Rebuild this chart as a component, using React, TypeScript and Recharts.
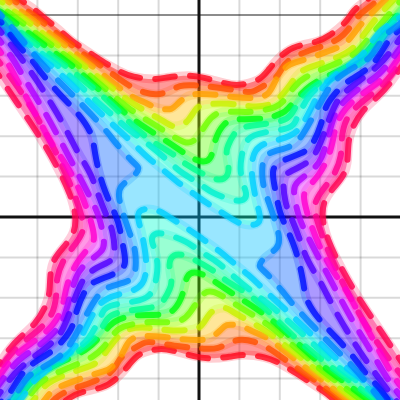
import React from "react";
import { ScatterChart, Scatter, XAxis, YAxis, ReferenceLine } from "recharts";

type P = number[];

const gridTicks = [-161.6, -121.2, -80.8, -40.4, 40.4, 80.8, 121.2, 161.6];
const yGridTicks = [-161.6, -121.2, -80.8, -40.4, 40.4, 80.8, 121.2, 161.6];
const heavyTick = 202;

const redTop: P[] = [[-191,227],[-179,217],[-166,209],[-156,200],[-137,185],[-129,177],[-109,164],[-99,157],[-79,145],[-67,140],[-44,137],[-32,140],[-9,142],[3,140],[28,133],[38,131],[61,136],[69,147],[84,164],[96,171],[119,175],[129,180],[148,195],[154,207],[168,217],[179,227]];
const orangeTop: P[] = [[-198,227],[-186,217],[-163,200],[-144,185],[-117,164],[-107,157],[-89,145],[-69,130],[-54,124],[-42,122],[-31,125],[-19,132],[-7,132],[18,130],[51,124],[56,126],[78,139],[82,147],[88,157],[108,166],[128,172],[141,179],[148,185],[159,202],[171,210],[179,217],[191,227]];
const amberTop: P[] = [[-205,227],[-193,217],[-170,200],[-151,185],[-124,164],[-115,157],[-99,145],[-69,120],[-54,115],[-46,110],[-37,108],[-27,107],[-22,113],[-14,120],[-4,124],[23,122],[31,120],[59,118],[71,123],[76,137],[88,152],[94,154],[114,160],[141,170],[148,174],[161,192],[169,200],[186,217],[198,227]];
const yellowTop: P[] = [[-212,227],[-200,217],[-177,200],[-158,185],[-131,164],[-122,157],[-107,145],[-87,129],[-69,115],[-59,109],[-32,94],[-27,90],[-16,92],[-10,97],[-4,107],[1,113],[31,114],[51,110],[71,111],[81,119],[91,132],[98,142],[106,149],[128,155],[148,164],[157,171],[168,187],[174,195],[191,214],[203,225]];
const limeTop: P[] = [[-219,227],[-207,217],[-184,200],[-165,185],[-137,164],[-127,157],[-113,145],[-89,124],[-69,107],[-47,94],[-36,87],[-13,72],[-3,76],[9,97],[19,106],[43,105],[54,105],[78,109],[86,117],[96,132],[106,140],[121,147],[146,157],[159,165],[173,183],[181,192],[198,212],[210,226]];
const greenTop: P[] = [[-226,227],[-214,217],[-191,200],[-172,185],[-144,164],[-134,157],[-119,145],[-94,122],[-69,99],[-42,82],[-19,67],[-11,61],[3,54],[13,57],[15,77],[25,95],[36,98],[61,98],[71,99],[84,104],[88,107],[101,122],[111,132],[126,140],[151,151],[166,162],[179,179],[188,190],[204,209],[216,223]];
const springTop: P[] = [[-233,227],[-221,217],[-198,200],[-179,185],[-151,164],[-141,157],[-126,145],[-99,124],[-77,102],[-69,94],[-52,79],[-46,75],[-24,62],[-16,54],[14,37],[26,37],[31,46],[27,64],[28,70],[37,88],[48,91],[84,95],[92,101],[98,113],[104,122],[117,132],[133,142],[156,154],[171,167],[183,182],[193,195],[209,213],[221,225]];
const aquaTop: P[] = [[-240,227],[-228,217],[-205,200],[-186,185],[-158,164],[-148,157],[-133,145],[-102,115],[-84,100],[-74,90],[-49,72],[-26,52],[-19,45],[3,32],[11,25],[34,16],[46,16],[48,24],[44,32],[41,47],[42,59],[47,80],[64,85],[93,88],[97,97],[103,109],[110,122],[121,132],[141,143],[163,153],[176,167],[189,187],[201,202],[213,214]];
const cyanTop: P[] = [[-247,227],[-235,217],[-212,200],[-193,185],[-165,164],[-155,157],[-140,145],[-104,109],[-86,92],[-77,84],[-59,67],[-51,59],[-32,44],[-22,35],[-2,21],[6,15],[33,-2],[41,-7],[55,-9],[63,-4],[58,12],[54,32],[52,50],[55,68],[68,75],[93,80],[104,92],[116,117],[123,129],[136,143],[156,155],[168,167],[179,185],[191,193],[203,200],[215,212]];

const redBottom: P[] = [[191,-227],[179,-217],[166,-209],[156,-200],[137,-185],[129,-177],[109,-164],[99,-157],[79,-145],[67,-140],[44,-137],[32,-140],[9,-142],[-3,-140],[-28,-133],[-38,-131],[-61,-136],[-69,-147],[-84,-164],[-96,-171],[-119,-175],[-129,-180],[-148,-195],[-154,-207],[-168,-217],[-179,-227]];
const orangeBottom: P[] = [[198,-227],[186,-217],[163,-200],[144,-185],[117,-164],[107,-157],[89,-145],[69,-130],[54,-124],[42,-122],[31,-125],[19,-132],[7,-132],[-18,-130],[-51,-124],[-56,-126],[-78,-139],[-82,-147],[-88,-157],[-108,-166],[-128,-172],[-141,-179],[-148,-185],[-159,-202],[-171,-210],[-179,-217],[-191,-227]];
const amberBottom: P[] = [[205,-227],[193,-217],[170,-200],[151,-185],[124,-164],[115,-157],[99,-145],[69,-120],[54,-115],[46,-110],[37,-108],[27,-107],[22,-113],[14,-120],[4,-124],[-23,-122],[-31,-120],[-59,-118],[-71,-123],[-76,-137],[-88,-152],[-94,-154],[-114,-160],[-141,-170],[-148,-174],[-161,-192],[-169,-200],[-186,-217],[-198,-227]];
const yellowBottom: P[] = [[212,-227],[200,-217],[177,-200],[158,-185],[131,-164],[122,-157],[107,-145],[87,-129],[69,-115],[59,-109],[32,-94],[27,-90],[16,-92],[10,-97],[4,-107],[-1,-113],[-31,-114],[-51,-110],[-71,-111],[-81,-119],[-91,-132],[-98,-142],[-106,-149],[-128,-155],[-148,-164],[-157,-171],[-168,-187],[-174,-195],[-191,-214],[-203,-225]];
const limeBottom: P[] = [[219,-227],[207,-217],[184,-200],[165,-185],[137,-164],[127,-157],[113,-145],[89,-124],[69,-107],[47,-94],[36,-87],[13,-72],[3,-76],[-9,-97],[-19,-106],[-43,-105],[-54,-105],[-78,-109],[-86,-117],[-96,-132],[-106,-140],[-121,-147],[-146,-157],[-159,-165],[-173,-183],[-181,-192],[-198,-212],[-210,-226]];
const greenBottom: P[] = [[226,-227],[214,-217],[191,-200],[172,-185],[144,-164],[134,-157],[119,-145],[94,-122],[69,-99],[42,-82],[19,-67],[11,-61],[-3,-54],[-13,-57],[-15,-77],[-25,-95],[-36,-98],[-61,-98],[-71,-99],[-84,-104],[-88,-107],[-101,-122],[-111,-132],[-126,-140],[-151,-151],[-166,-162],[-179,-179],[-188,-190],[-204,-209],[-216,-223]];
const springBottom: P[] = [[233,-227],[221,-217],[198,-200],[179,-185],[151,-164],[141,-157],[126,-145],[99,-124],[77,-102],[69,-94],[52,-79],[46,-75],[24,-62],[16,-54],[-14,-37],[-26,-37],[-31,-46],[-27,-64],[-28,-70],[-37,-88],[-48,-91],[-84,-95],[-92,-101],[-98,-113],[-104,-122],[-117,-132],[-133,-142],[-156,-154],[-171,-167],[-183,-182],[-193,-195],[-209,-213],[-221,-225]];
const aquaBottom: P[] = [[240,-227],[228,-217],[205,-200],[186,-185],[158,-164],[148,-157],[133,-145],[102,-115],[84,-100],[74,-90],[49,-72],[26,-52],[19,-45],[-3,-32],[-11,-25],[-34,-16],[-46,-16],[-48,-24],[-44,-32],[-41,-47],[-42,-59],[-47,-80],[-64,-85],[-93,-88],[-97,-97],[-103,-109],[-110,-122],[-121,-132],[-141,-143],[-163,-153],[-176,-167],[-189,-187],[-201,-202],[-213,-214]];
const cyanBottom: P[] = [[247,-227],[235,-217],[212,-200],[193,-185],[165,-164],[155,-157],[140,-145],[104,-109],[86,-92],[77,-84],[59,-67],[51,-59],[32,-44],[22,-35],[2,-21],[-6,-15],[-33,2],[-41,7],[-55,9],[-63,4],[-58,-12],[-54,-32],[-52,-50],[-55,-68],[-68,-75],[-93,-80],[-104,-92],[-116,-117],[-123,-129],[-136,-143],[-156,-155],[-168,-167],[-179,-185],[-191,-193],[-203,-200],[-215,-212]];

const azureLeft: P[] = [[-211,215],[-199,203],[-182,184],[-157,152],[-134,130],[-114,109],[-109,104],[-89,82],[-86,77],[-66,54],[-59,50],[-63,42],[-80,31],[-81,20],[-74,-3],[-66,-25],[-63,-37],[-63,-60],[-74,-66],[-94,-70],[-104,-82],[-116,-104],[-129,-129],[-141,-142],[-163,-154],[-173,-160],[-186,-184],[-201,-192],[-213,-205]];
const blueLeft: P[] = [[-211,209],[-197,195],[-182,172],[-164,154],[-159,145],[-137,120],[-119,102],[-106,82],[-105,67],[-97,30],[-82,0],[-79,-12],[-76,-29],[-72,-48],[-81,-56],[-104,-64],[-113,-70],[-123,-94],[-126,-110],[-133,-120],[-146,-135],[-169,-147],[-181,-162],[-191,-180],[-201,-187],[-213,-199]];
const violetLeft: P[] = [[-211,199],[-199,187],[-179,160],[-162,137],[-147,112],[-139,99],[-126,74],[-121,64],[-107,42],[-101,22],[-92,0],[-86,-13],[-83,-40],[-91,-46],[-113,-55],[-123,-77],[-136,-115],[-146,-125],[-161,-137],[-181,-152],[-193,-167],[-201,-179],[-213,-191]];
const purpleLeft: P[] = [[-211,189],[-199,177],[-184,155],[-169,129],[-154,105],[-139,77],[-124,49],[-109,20],[-99,0],[-94,-27],[-96,-34],[-114,-47],[-123,-57],[-131,-87],[-136,-105],[-146,-117],[-161,-130],[-181,-142],[-196,-162],[-203,-172],[-215,-185]];
const magentaLeft: P[] = [[-211,179],[-199,167],[-187,147],[-174,122],[-159,95],[-147,72],[-132,52],[-119,27],[-109,0],[-104,-20],[-106,-27],[-121,-42],[-133,-67],[-136,-92],[-146,-109],[-161,-122],[-181,-135],[-193,-149],[-203,-165],[-215,-177]];
const hotLeft: P[] = [[-211,169],[-199,154],[-184,134],[-167,109],[-156,89],[-144,67],[-135,47],[-124,22],[-117,0],[-114,-12],[-123,-27],[-136,-42],[-143,-62],[-142,-77],[-146,-99],[-161,-114],[-181,-129],[-193,-142],[-203,-159],[-215,-171]];
const roseLeft: P[] = [[-211,157],[-197,137],[-184,117],[-162,85],[-144,55],[-127,20],[-123,0],[-124,-15],[-134,-29],[-146,-42],[-149,-58],[-149,-73],[-152,-88],[-164,-108],[-179,-120],[-191,-133],[-201,-149],[-213,-162]];

const azureRight: P[] = [[211,-215],[199,-203],[182,-184],[157,-152],[134,-130],[114,-109],[109,-104],[89,-82],[86,-77],[66,-54],[59,-50],[63,-42],[80,-31],[81,-20],[74,3],[66,25],[63,37],[63,60],[74,66],[94,70],[104,82],[116,104],[129,129],[141,142],[163,154],[173,160],[186,184],[201,192],[213,205]];
const blueRight: P[] = [[211,-209],[197,-195],[182,-172],[164,-154],[159,-145],[137,-120],[119,-102],[106,-82],[105,-67],[97,-30],[82,0],[79,12],[76,29],[72,48],[81,56],[104,64],[113,70],[123,94],[126,110],[133,120],[146,135],[169,147],[181,162],[191,180],[201,187],[213,199]];
const violetRight: P[] = [[211,-199],[199,-187],[179,-160],[162,-137],[147,-112],[139,-99],[126,-74],[121,-64],[107,-42],[101,-22],[92,0],[86,13],[83,40],[91,46],[113,55],[123,77],[136,115],[146,125],[161,137],[181,152],[193,167],[201,179],[213,191]];
const purpleRight: P[] = [[211,-189],[199,-177],[184,-155],[169,-129],[154,-105],[139,-77],[124,-49],[109,-20],[99,0],[94,27],[96,34],[114,47],[123,57],[131,87],[136,105],[146,117],[161,130],[181,142],[196,162],[203,172],[215,185]];
const magentaRight: P[] = [[211,-179],[199,-167],[187,-147],[174,-122],[159,-95],[147,-72],[132,-52],[119,-27],[109,0],[104,20],[106,27],[121,42],[133,67],[136,92],[146,109],[161,122],[181,135],[193,149],[203,165],[215,177]];
const hotRight: P[] = [[211,-169],[199,-154],[184,-134],[167,-109],[156,-89],[144,-67],[135,-47],[124,-22],[117,0],[114,12],[123,27],[136,42],[143,62],[142,77],[146,99],[161,114],[181,129],[193,142],[203,159],[215,171]];
const roseRight: P[] = [[211,-157],[197,-137],[184,-117],[162,-85],[144,-55],[127,-20],[123,0],[124,15],[134,29],[146,42],[149,58],[149,73],[152,88],[164,108],[179,120],[191,133],[201,149],[213,162]];

const topLines = [redTop, orangeTop, amberTop, yellowTop, limeTop, greenTop, springTop, aquaTop, cyanTop];
const bottomLines = [redBottom, orangeBottom, amberBottom, yellowBottom, limeBottom, greenBottom, springBottom, aquaBottom, cyanBottom];
const leftLines = [roseLeft, hotLeft, magentaLeft, purpleLeft, violetLeft, blueLeft, azureLeft];
const rightLines = [roseRight, hotRight, magentaRight, purpleRight, violetRight, blueRight, azureRight];

const warmStroke = ["#ff0a1e", "#ff5000", "#ffa000", "#c8f000", "#70ff00", "#00ff10", "#00ff90", "#00f0d0", "#00d0ff"];
const warmFill = ["#ff0000", "#ff6000", "#ffc000", "#c0ff00", "#60ff00", "#00ff40", "#00ff90", "#00ffd0"];
const coolStroke = ["#ff0050", "#ff0090", "#ff00d0", "#b000ff", "#5000ff", "#0010ff", "#0088ff"];
const coolFill = ["#ff0080", "#ff00c0", "#e000ff", "#8000ff", "#3000ff", "#0060ff"];
const centreFill = "#00c0ff";

const rows = (pts: P[]) => pts.map(([x, y]) => ({ x, y }));
const noDot = () => <g />;

function fillBand(key: string, pts: P[], color: string) {
  return (
    <Scatter
      key={key}
      data={rows(pts)}
      isAnimationActive={false}
      shape={noDot}
      lineType="joint"
      lineJointType="basis"
      line={{ fill: color, fillOpacity: 0.4, stroke: "none" }}
    />
  );
}

function contour(key: string, pts: P[], color: string) {
  return [
    <Scatter
      key={key + "-halo"}
      data={rows(pts)}
      isAnimationActive={false}
      shape={noDot}
      lineType="joint"
      lineJointType="basis"
      line={{ fill: "none", stroke: color, strokeOpacity: 0.2, strokeWidth: 9 }}
    />,
    <Scatter
      key={key + "-dash"}
      data={rows(pts)}
      isAnimationActive={false}
      shape={noDot}
      lineType="joint"
      lineJointType="basis"
      line={{
        fill: "none",
        stroke: color,
        strokeOpacity: 0.82,
        strokeWidth: 6,
        strokeDasharray: "20 15",
        strokeLinecap: "round",
      }}
    />,
  ];
}

const bands = (lines: P[][], colors: string[], name: string) =>
  colors.map((c, i) => fillBand(name + i, [...lines[i], ...[...lines[i + 1]].reverse()], c));

export default function App() {
  const centre = [
    ...cyanTop,
    ...[...azureRight].reverse(),
    ...cyanBottom,
    ...[...azureLeft].reverse(),
  ];
  return (
    <div style={{ position: "absolute", left: 0, top: 0, width: 400, height: 400, background: "#fff" }}>
      <ScatterChart width={400} height={400} margin={{ top: 0, right: 0, bottom: 0, left: 0 }}>
        <XAxis type="number" dataKey="x" domain={[-199, 201]} allowDataOverflow hide />
        <YAxis type="number" dataKey="y" domain={[-183, 217]} allowDataOverflow hide />
        {gridTicks.map((t) => (
          <ReferenceLine key={"vg" + t} x={t} stroke="#000" strokeOpacity={0.15} strokeWidth={2} />
        ))}
        {yGridTicks.map((t) => (
          <ReferenceLine key={"hg" + t} y={t} stroke="#000" strokeOpacity={0.15} strokeWidth={2} />
        ))}
        <ReferenceLine y={heavyTick} stroke="#000" strokeOpacity={0.45} strokeWidth={2} />
        <ReferenceLine x={0} stroke="#111" strokeWidth={3} />
        <ReferenceLine y={0} stroke="#111" strokeWidth={3} />
        {fillBand("centre", centre, centreFill)}
        {bands(topLines, warmFill, "t")}
        {bands(bottomLines, warmFill, "b")}
        {bands(leftLines, coolFill, "l")}
        {bands(rightLines, coolFill, "r")}
        {topLines.map((l, i) => contour("ct" + i, l, warmStroke[i]))}
        {bottomLines.map((l, i) => contour("cb" + i, l, warmStroke[i]))}
        {leftLines.map((l, i) => contour("cl" + i, l, coolStroke[i]))}
        {rightLines.map((l, i) => contour("cr" + i, l, coolStroke[i]))}
      </ScatterChart>
    </div>
  );
}
